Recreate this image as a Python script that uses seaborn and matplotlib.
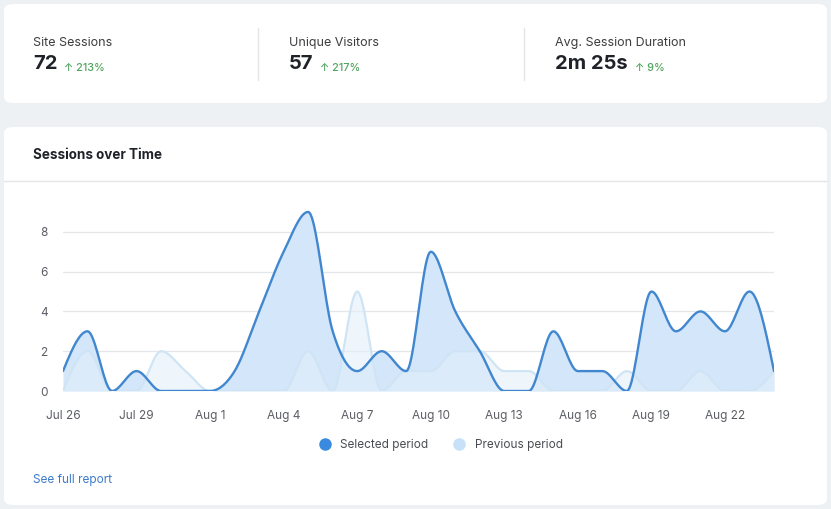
import numpy as np
import pandas as pd
import seaborn as sns
import matplotlib.pyplot as plt
from matplotlib.patches import FancyBboxPatch
from matplotlib.lines import Line2D

# datos (sesiones por dia, 26 jul - 24 ago)
days = list(range(30))
selected = [1, 3, 0, 1, 0, 0, 0, 1, 4, 7, 9, 3, 1, 2, 1, 7, 4, 2, 0, 0, 3, 1, 1, 0, 5, 3, 4, 3, 5, 1]
previous = [0, 2, 0, 0, 2, 1, 0, 0, 0, 0, 2, 0, 5, 0, 1, 1, 2, 2, 1, 1, 0, 0, 0, 1, 0, 0, 1, 0, 0, 1]
tick_days = [0, 3, 6, 9, 12, 15, 18, 21, 24, 27]
tick_labels = ["Jul 26", "Jul 29", "Aug 1", "Aug 4", "Aug 7", "Aug 10", "Aug 13", "Aug 16", "Aug 19", "Aug 22"]

kpi_names = ["Site Sessions", "Unique Visitors", "Avg. Session Duration"]
kpi_values = ["72", "57", "2m 25s"]
kpi_changes = ["213%", "217%", "9%"]


def monotone(x, y, n=20):
    # curva monotona tipo d3 (curveMonotoneX)
    x = np.asarray(x, float)
    y = np.asarray(y, float)
    h = np.diff(x)
    s = np.diff(y) / h
    t = np.zeros(len(y))
    for i in range(1, len(y) - 1):
        p = (s[i - 1] * h[i] + s[i] * h[i - 1]) / (h[i - 1] + h[i])
        t[i] = (np.sign(s[i - 1]) + np.sign(s[i])) * min(abs(s[i - 1]), abs(s[i]), 0.5 * abs(p))
    t[0] = (3 * s[0] - t[1]) / 2
    t[-1] = (3 * s[-1] - t[-2]) / 2
    xs, ys = [], []
    for i in range(len(y) - 1):
        u = np.linspace(0, 1, n, endpoint=False)
        h00 = 2 * u**3 - 3 * u**2 + 1
        h10 = u**3 - 2 * u**2 + u
        h01 = -2 * u**3 + 3 * u**2
        h11 = u**3 - u**2
        xs.append(x[i] + u * h[i])
        ys.append(h00 * y[i] + h10 * h[i] * t[i] + h01 * y[i + 1] + h11 * h[i] * t[i + 1])
    xs.append([x[-1]])
    ys.append([y[-1]])
    return np.concatenate(xs), np.concatenate(ys)


sns.set_style("white")
plt.rcParams['font.family'] = ['Inter', 'DejaVu Sans']

W, H = 831, 509
fig = plt.figure(figsize=(W / 100, H / 100), dpi=100)
fig.patch.set_facecolor("#eef1f4")


def fx(px):
    return px / W


def fy(py):
    return 1 - py / H


# tarjetas blancas
for top, bottom in [(4, 103), (127, 505)]:
    card = FancyBboxPatch((fx(4), fy(bottom)), fx(823), (bottom - top) / H,
                          boxstyle="round,pad=0,rounding_size=0.012",
                          transform=fig.transFigure, facecolor="white", edgecolor="none", zorder=-5)
    fig.patches.append(card)

# KPIs
cols = [33, 289, 555]
for i in range(3):
    fig.text(fx(cols[i]), fy(43), kpi_names[i], fontsize=9, color="#3d3d3d", va="center")
    t = fig.text(fx(cols[i]), fy(64), kpi_values[i], fontsize=14.5, fontweight="bold", color="#1f2229", va="center")
    fig.canvas.draw()
    bb = t.get_window_extent()
    fig.text((bb.x1 + 7) / W, fy(68), "\u2191 " + kpi_changes[i], fontsize=7.8, color="#4fa55d",
             va="center", fontweight="medium")
for xd in [258, 524]:
    fig.add_artist(Line2D([fx(xd), fx(xd)], [fy(28), fy(80)], color="#e3e5e8", lw=1))

# titulo y separador
fig.text(fx(33), fy(155), "Sessions over Time", fontsize=9.7, fontweight="bold", color="#1f2229", va="center")
fig.add_artist(Line2D([fx(4), fx(827)], [fy(181), fy(181)], color="#e3e5e8", lw=1))
fig.text(fx(33), fy(480), "See full report", fontsize=8.5, color="#3d7bcc", va="center")

# grafico
ax = fig.add_axes([fx(63), fy(391), fx(774 - 63), (391 - 192) / H])
ax.set_zorder(3)
ax.set_facecolor("none")

xs, ys_sel = monotone(days, selected)
_, ys_prev = monotone(days, previous)
curves = pd.DataFrame({"day": xs, "selected": ys_sel, "previous": ys_prev})

ax.fill_between(curves["day"], 0, curves["selected"], color="#d4e6f9", lw=0, zorder=2)
ax.fill_between(curves["day"], 0, curves["previous"], color="#e3f0fb", alpha=0.6, lw=0, zorder=3)
sns.lineplot(data=curves, x="day", y="previous", ax=ax, color="#cfe4f5", lw=1.6, zorder=4)
sns.lineplot(data=curves, x="day", y="selected", ax=ax, color="#4187d0", lw=1.7, zorder=5)

ax.set_xlim(0, 29)
ax.set_ylim(0, 10)
ax.set_yticks([0, 2, 4, 6, 8])
ax.set_xticks(tick_days)
ax.set_xticklabels(tick_labels)
ax.grid(axis="y", color="#e4e6e9", lw=0.9, zorder=1)
ax.set_axisbelow(True)
ax.tick_params(axis="both", length=0, labelsize=8.5, labelcolor="#5a5d63")
ax.tick_params(axis="y", pad=11)
ax.tick_params(axis="x", pad=14)
ax.set_xlabel("")
ax.set_ylabel("")
for sp in ax.spines.values():
    sp.set_visible(False)

# leyenda
handles = [Line2D([], [], marker="o", ls="", markersize=9, markerfacecolor="#3a8ae0", markeredgecolor="none"),
           Line2D([], [], marker="o", ls="", markersize=9, markerfacecolor="#c6e1f8", markeredgecolor="none")]
fig.legend(handles, ["Selected period", "Previous period"], loc="center", bbox_to_anchor=(fx(438), fy(445)),
           ncol=2, frameon=False, fontsize=8.5, labelcolor="#4a4d53", handletextpad=0.3, columnspacing=1.6)

fig.savefig("out.png", dpi=100, facecolor=fig.get_facecolor())
